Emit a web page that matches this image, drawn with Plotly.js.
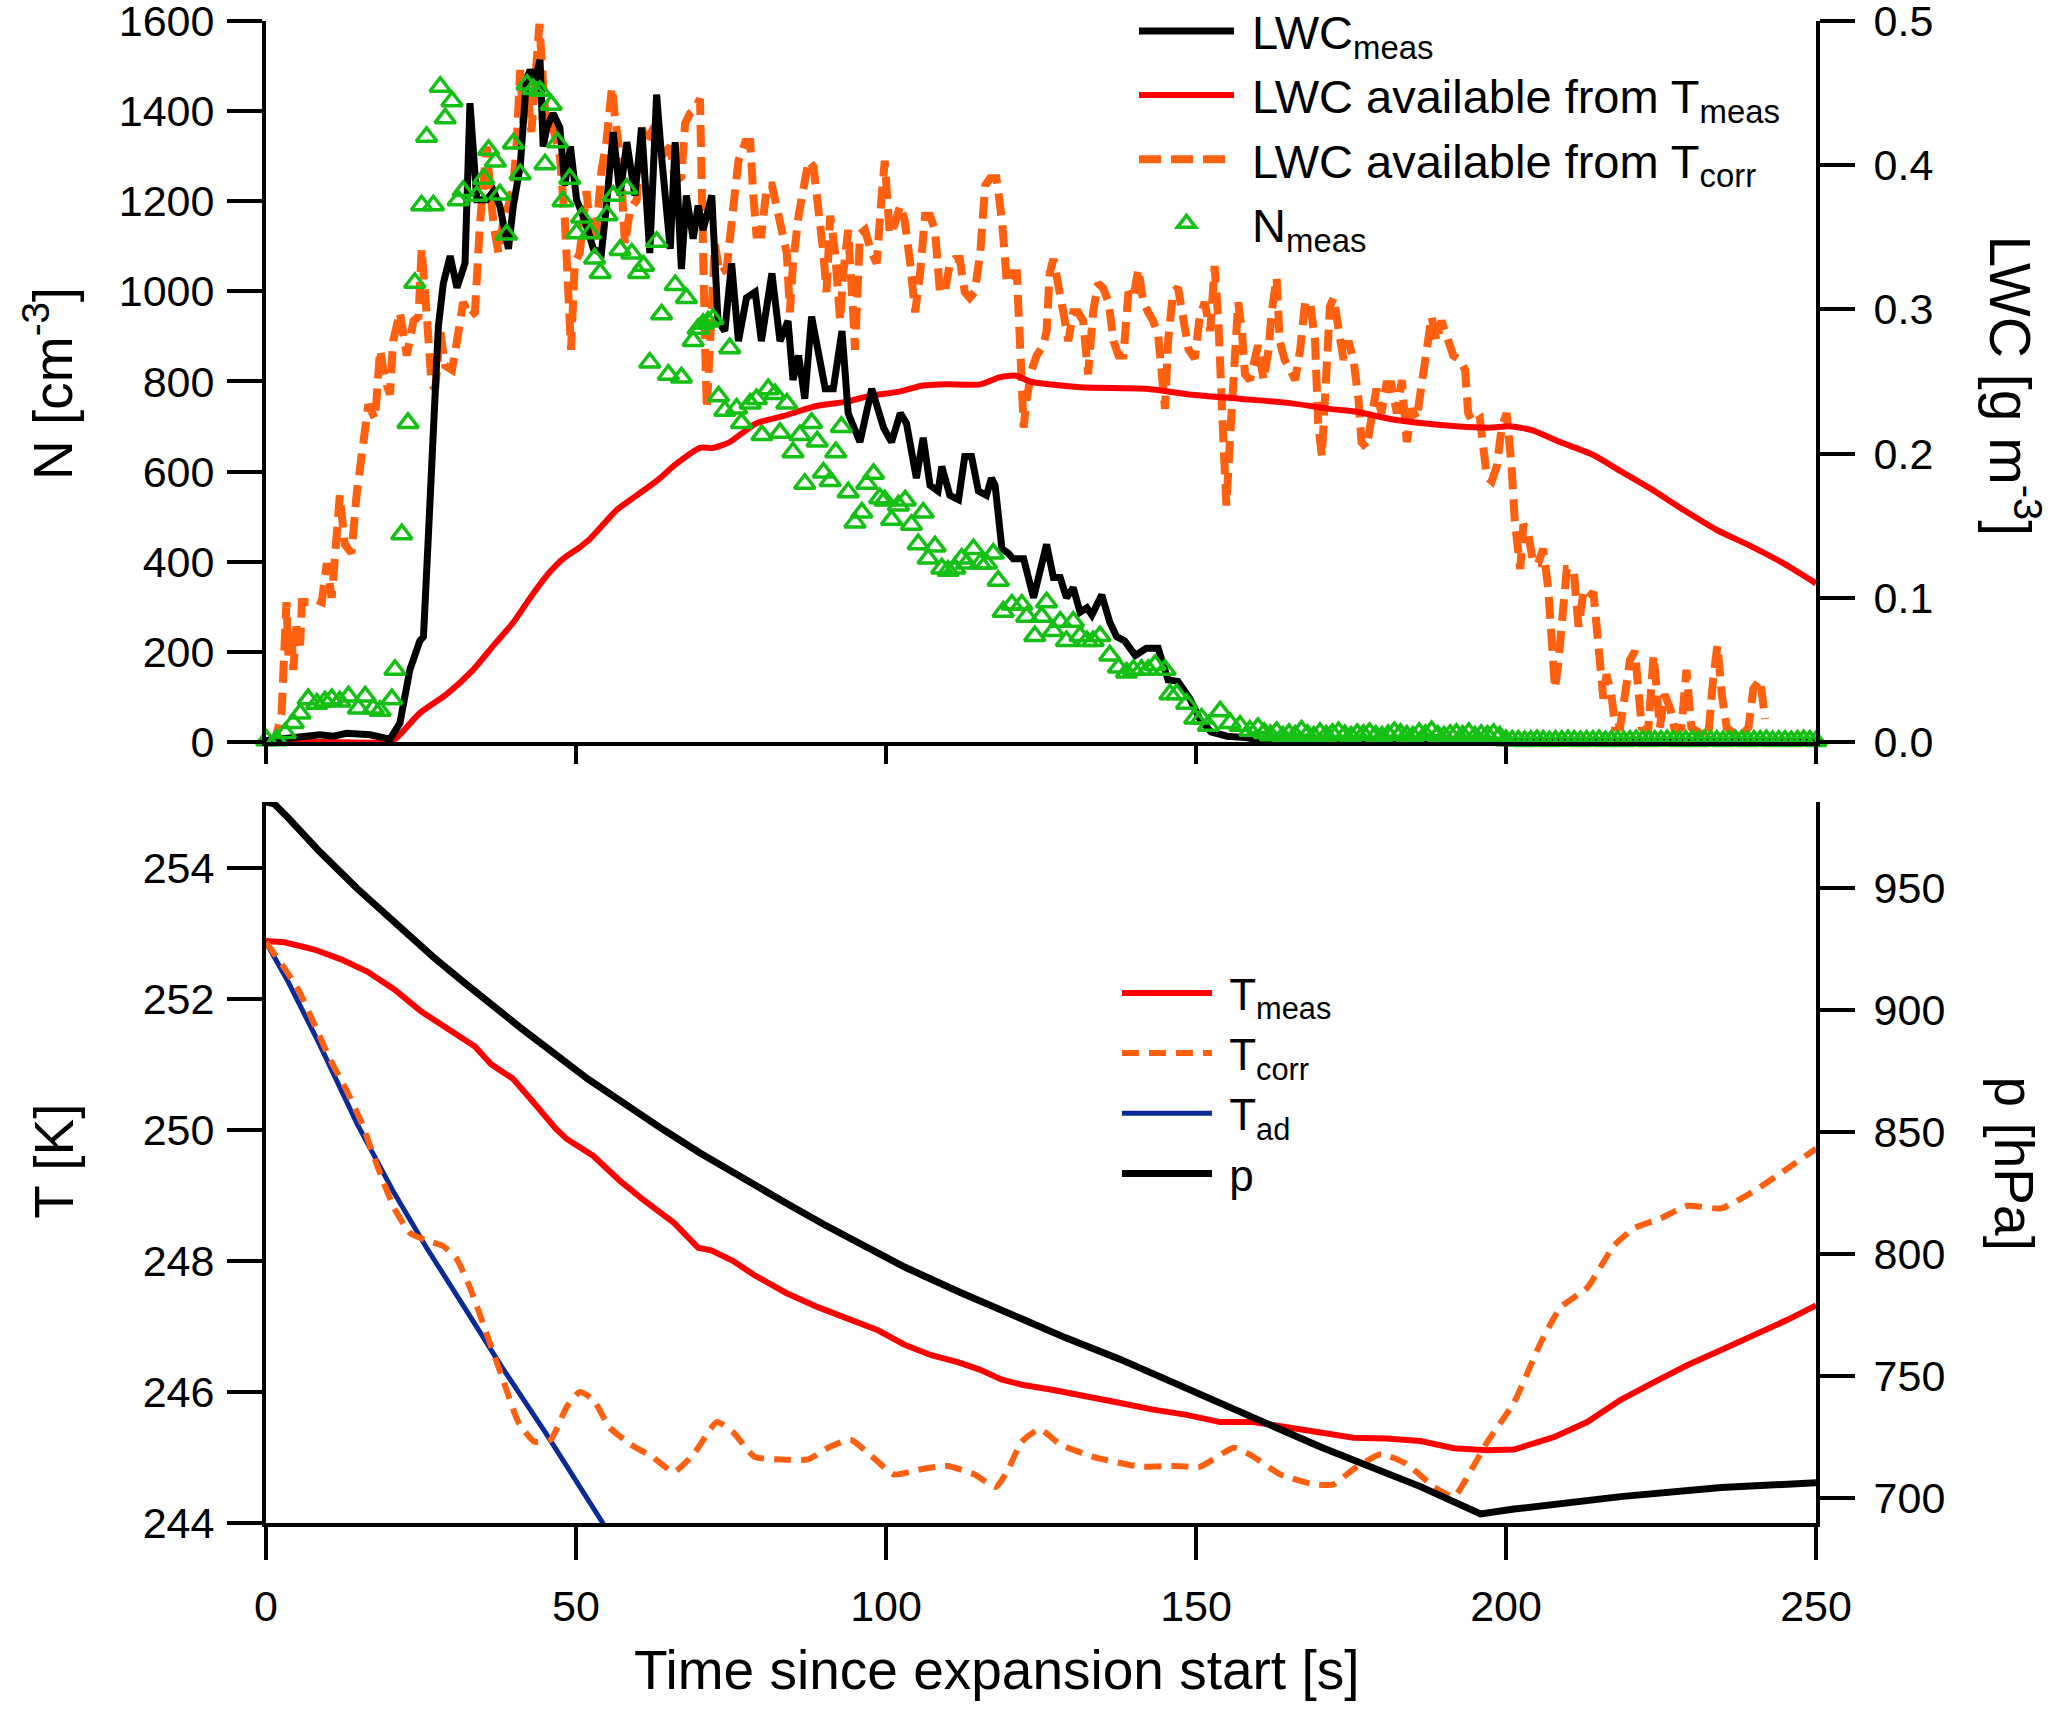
<!DOCTYPE html>
<html>
<head>
<meta charset="utf-8">
<script src="https://cdn.plot.ly/plotly-3.0.1.min.js"></script>
<style>
  body { margin: 0; background: #fff; }
  #chart { width: 2067px; height: 1716px; }
</style>
</head>
<body>
<div id="chart"></div>
<script>
// ---- top panel: liquid water content [g m-3] ----
var tLwcMeas = [0, 2, 4.4, 8.7, 10.9, 13, 16.8, 20, 21.6, 23.2,
  24.8, 25.4, 26.2, 27, 27.8, 28.6, 29.7, 30.8, 32.1, 32.9,
  34, 35.6, 36.7, 37.7, 39.1, 39.9, 41, 42, 42.6, 43.4,
  44.2, 44.7, 45.3, 46.3, 47.4, 48.2, 49.1, 50.1, 51.4, 52.8,
  54.1, 54.9, 56, 57.1, 58.2, 59.5, 60.6, 61.9, 63, 63.8,
  65.2, 66, 67, 67.8, 68.9, 69.7, 70.5, 71.9, 72.9, 74,
  75.1, 76.2, 77.5, 78.9, 79.9, 81.6, 82.9, 84.2, 85, 85.9,
  86.9, 88, 90.2, 91.5, 92.9, 93.9, 95.8, 97.7, 99.6, 100.9,
  102.3, 103.3, 104.9, 106, 107.1, 108.4, 109, 110.3, 111.7, 112.7,
  113.8, 114.9, 116.2, 117, 117.6, 118.7, 119.7, 120.5, 122.2, 123.8,
  125.9, 127, 128.1, 129.1, 130.2, 131.3, 132.4, 133.2, 134.8, 136.1,
  137.2, 138.5, 140.2, 142, 143.9, 145.5, 147.1, 149, 150.6, 152.4,
  155, 158, 161, 170, 200, 250];
var lwcMeas = [0.001, 0.002, 0.003, 0.005, 0.004, 0.006, 0.005, 0.002, 0.013, 0.050,
  0.070, 0.073, 0.144, 0.221, 0.288, 0.318, 0.337, 0.315, 0.332, 0.443,
  0.376, 0.376, 0.382, 0.372, 0.342, 0.372, 0.399, 0.459, 0.466, 0.459,
  0.473, 0.413, 0.426, 0.436, 0.426, 0.386, 0.413, 0.376, 0.362, 0.342,
  0.339, 0.372, 0.423, 0.379, 0.416, 0.379, 0.426, 0.339, 0.449, 0.406,
  0.342, 0.416, 0.328, 0.379, 0.349, 0.372, 0.355, 0.379, 0.292, 0.285,
  0.332, 0.278, 0.308, 0.312, 0.278, 0.325, 0.278, 0.292, 0.251, 0.268,
  0.238, 0.295, 0.245, 0.245, 0.285, 0.228, 0.208, 0.245, 0.218, 0.208,
  0.228, 0.221, 0.183, 0.211, 0.178, 0.174, 0.191, 0.171, 0.168, 0.198,
  0.198, 0.174, 0.171, 0.183, 0.178, 0.134, 0.131, 0.127, 0.127, 0.100,
  0.137, 0.114, 0.114, 0.100, 0.107, 0.090, 0.093, 0.088, 0.102, 0.083,
  0.073, 0.070, 0.060, 0.065, 0.065, 0.043, 0.042, 0.030, 0.016, 0.007,
  0.004, 0.003, 0.001, 0, 0, 0];

var tLwcAvail = [0, 10, 19.8, 21.1, 24.8, 29.1, 33.4, 36.7, 39.9, 43.1,
  45.8, 47.9, 50.6, 52.3, 56.6, 59.8, 63, 66.2, 70, 72.2,
  74.8, 79.1, 83.4, 88.8, 93.7, 97.4, 102.2, 105.8, 109.8, 115.2,
  118.4, 121, 123.2, 131.3, 142, 149, 157, 165.2, 171.6, 175.9,
  181.3, 186.7, 192, 197.4, 200.6, 204.4, 208.7, 214.1, 218.4, 223.2,
  228.6, 234, 239.4, 244.7, 250];
var lwcAvailMeas = [0, 0, 0, 0.003, 0.020, 0.033, 0.050, 0.067, 0.083, 0.103,
  0.118, 0.127, 0.135, 0.141, 0.161, 0.171, 0.181, 0.193, 0.204, 0.204,
  0.208, 0.221, 0.226, 0.233, 0.236, 0.240, 0.243, 0.247, 0.248, 0.248,
  0.253, 0.254, 0.250, 0.246, 0.245, 0.241, 0.238, 0.235, 0.231, 0.229,
  0.224, 0.221, 0.219, 0.218, 0.219, 0.216, 0.208, 0.199, 0.188, 0.176,
  0.161, 0.147, 0.136, 0.124, 0.110];

var tLwcCorr = [0.5, 1.5, 2.5, 3.3, 3.6, 4.1, 4.4, 4.9, 5.5, 5.8,
  7.1, 7.9, 9, 9.8, 10.6, 11.1, 11.9, 12.7, 13.8, 14.6,
  15.4, 16.5, 17.6, 18.4, 19.2, 20, 20.5, 21.6, 22.7, 23.8,
  24.6, 25.1, 25.9, 26.7, 27.3, 28.1, 28.9, 30, 30.8, 31.8,
  32.9, 33.7, 34.5, 35.6, 36.1, 36.7, 37.5, 38.3, 39.1, 39.9,
  40.4, 41, 41.5, 42, 42.8, 43.7, 44.1, 44.7, 45.3, 46.3,
  47.4, 48.2, 48.8, 49.2, 49.8, 50.6, 51.7, 52.3, 53.1, 53.6,
  54.1, 54.9, 55.8, 56.3, 57.1, 57.9, 58.7, 59.8, 60.6, 61.4,
  62.2, 63.3, 64.4, 65.2, 66, 67, 67.6, 68.4, 69.2, 70,
  70.3, 70.8, 71.1, 71.6, 72.4, 73.2, 74.3, 75.4, 76.2, 77.3,
  78.1, 78.6, 79.1, 79.9, 80.8, 81.6, 82.4, 83.2, 84, 84.5,
  85, 85.9, 86.7, 87.5, 88.3, 89.1, 89.9, 90.4, 91, 91.8,
  92.6, 93.1, 93.9, 94.7, 95, 95.8, 96.6, 97.7, 98.5, 99.3,
  99.8, 100.6, 101.4, 102.3, 103, 103.9, 104.7, 105.5, 106.3, 107.1,
  107.9, 108.7, 109.5, 110.3, 111.1, 111.9, 112.7, 113.5, 114.3, 115.2,
  116, 116.8, 117.8, 118.7, 119.5, 120.3, 121.1, 121.6, 122.2, 122.7,
  123.5, 124.3, 125.4, 125.9, 126.4, 127, 127.8, 128.6, 129.4, 130.2,
  131, 131.8, 132.6, 133.4, 134.2, 135, 135.9, 136.7, 137.5, 138.3,
  139.1, 139.9, 140.7, 141.5, 142.3, 143.1, 143.9, 144.5, 145, 145.5,
  146.3, 147.1, 147.9, 148.8, 149.8, 150.6, 151.4, 152.3, 153, 153.6,
  154.4, 154.9, 155.5, 156, 156.8, 157.4, 157.9, 158.7, 159.5, 160,
  160.9, 161.7, 162.2, 163, 163.5, 164.3, 165.2, 166, 166.8, 167.6,
  168.4, 169.2, 169.7, 170.3, 170.8, 171.6, 172.2, 172.9, 173.8, 174.6,
  175.4, 176.2, 176.7, 177.5, 178.3, 179.1, 179.9, 180.7, 181.5, 182.4,
  183.2, 184, 184.8, 185.6, 186.4, 187.2, 188, 188.8, 189.6, 190.4,
  191.5, 192.6, 193.4, 193.9, 194.7, 195.8, 196.3, 196.9, 197.7, 198.5,
  199.3, 200.1, 200.9, 201.4, 202.3, 202.8, 203.6, 204.4, 205.2, 206,
  206.8, 207.4, 207.9, 208.4, 209, 209.8, 210.9, 211.7, 212.5, 213.3,
  214.1, 214.9, 215.7, 216.2, 217, 217.6, 218.4, 219.2, 220, 220.8,
  221.3, 221.9, 222.9, 223.8, 224.3, 224.8, 225.6, 226.5, 227.3, 228.3,
  229.1, 229.9, 231.3, 232.6, 233.4, 234.1, 234.8, 235.6, 236.7, 237.7,
  239.1, 239.9, 241, 241.8];
var lwcAvailCorr = [0, 0.002, 0.019, 0.097, 0.060, 0.077, 0.050, 0.080, 0.067, 0.097,
  0.097, 0.099, 0.097, 0.124, 0.100, 0.134, 0.171, 0.137, 0.131, 0.171,
  0.201, 0.234, 0.224, 0.272, 0.251, 0.241, 0.278, 0.298, 0.268, 0.292,
  0.295, 0.342, 0.298, 0.248, 0.245, 0.285, 0.261, 0.258, 0.278, 0.305,
  0.295, 0.298, 0.359, 0.413, 0.386, 0.359, 0.339, 0.362, 0.372, 0.386,
  0.413, 0.466, 0.429, 0.459, 0.423, 0.483, 0.498, 0.456, 0.423, 0.426,
  0.406, 0.362, 0.318, 0.272, 0.332, 0.339, 0.382, 0.355, 0.345, 0.376,
  0.396, 0.416, 0.454, 0.433, 0.406, 0.345, 0.369, 0.376, 0.426, 0.416,
  0.423, 0.416, 0.409, 0.413, 0.389, 0.392, 0.429, 0.436, 0.439, 0.446,
  0.362, 0.278, 0.231, 0.272, 0.345, 0.325, 0.328, 0.372, 0.403, 0.416,
  0.416, 0.379, 0.352, 0.352, 0.386, 0.386, 0.372, 0.355, 0.339, 0.298,
  0.332, 0.365, 0.386, 0.403, 0.399, 0.372, 0.339, 0.312, 0.365, 0.339,
  0.292, 0.325, 0.355, 0.298, 0.272, 0.352, 0.355, 0.339, 0.332, 0.379,
  0.403, 0.352, 0.359, 0.372, 0.362, 0.332, 0.298, 0.325, 0.365, 0.365,
  0.355, 0.312, 0.312, 0.332, 0.335, 0.335, 0.312, 0.308, 0.312, 0.339,
  0.386, 0.391, 0.391, 0.362, 0.318, 0.325, 0.325, 0.278, 0.218, 0.238,
  0.258, 0.268, 0.275, 0.285, 0.325, 0.335, 0.312, 0.298, 0.278, 0.298,
  0.298, 0.292, 0.255, 0.298, 0.318, 0.315, 0.305, 0.278, 0.268, 0.268,
  0.312, 0.308, 0.328, 0.305, 0.298, 0.292, 0.282, 0.258, 0.231, 0.278,
  0.312, 0.315, 0.298, 0.272, 0.266, 0.295, 0.305, 0.285, 0.330, 0.292,
  0.211, 0.164, 0.211, 0.258, 0.305, 0.285, 0.255, 0.251, 0.268, 0.275,
  0.251, 0.272, 0.298, 0.322, 0.278, 0.265, 0.258, 0.251, 0.272, 0.305,
  0.305, 0.278, 0.221, 0.198, 0.238, 0.302, 0.308, 0.285, 0.265, 0.278,
  0.265, 0.238, 0.208, 0.204, 0.224, 0.245, 0.228, 0.248, 0.248, 0.228,
  0.251, 0.208, 0.231, 0.224, 0.248, 0.272, 0.295, 0.278, 0.292, 0.282,
  0.268, 0.265, 0.258, 0.228, 0.221, 0.224, 0.201, 0.184, 0.181, 0.191,
  0.218, 0.228, 0.191, 0.154, 0.120, 0.151, 0.144, 0.124, 0.124, 0.134,
  0.107, 0.070, 0.037, 0.053, 0.090, 0.120, 0.120, 0.080, 0.104, 0.100,
  0.104, 0.067, 0.030, 0.047, 0.033, 0.010, 0.010, 0.033, 0.057, 0.063,
  0.043, 0.010, 0.006, 0.060, 0.037, 0.010, 0.033, 0.023, 0.006, 0.010,
  0.050, 0.010, 0.006, 0.003, 0.043, 0.067, 0.033, 0.010, 0.006, 0.003,
  0.010, 0.037, 0.043, 0.016];

// droplet number concentration [cm-3]
var tNmeas = [0.1, 1.7, 3.1, 4.4, 5.5, 6.8, 8.2, 9.5, 10.6, 11.9,
  13.3, 14.9, 16, 17.3, 18.4, 20.3, 20.8, 21.9, 22.9, 24,
  25.1, 25.9, 27, 28.1, 28.9, 30, 31, 31.8, 32.9, 34,
  35.1, 35.9, 37, 37.7, 38.8, 39.9, 41, 42.1, 43.1, 44.2,
  45, 46, 47, 47.9, 49, 50.1, 50.9, 52.3, 53, 53.9,
  55, 56, 57.1, 58.2, 59, 60.1, 60.9, 61.9, 63, 63.8,
  64.9, 66, 67, 67.8, 68.9, 69.7, 70.5, 71.3, 72.1, 73,
  74, 74.8, 75.9, 76.7, 78.1, 79.1, 80, 81, 82.1, 82.9,
  84, 85, 86.1, 86.9, 88, 88.9, 89.9, 91, 91.9, 92.8,
  93.9, 95, 96.1, 96.9, 98, 99, 99.8, 100.9, 102, 103.1,
  104.1, 105.2, 106, 106.8, 107.9, 109, 110, 111.1, 112.2, 113,
  114.1, 115.2, 116.2, 117.3, 118.1, 118.9, 120.3, 121.9, 122.7, 124,
  125.1, 125.9, 127, 128.1, 129.1, 130.2, 131.3, 132.4, 133.4, 134.5,
  136.1, 137.5, 138.8, 139.9, 141.2, 142.3, 143.4, 145, 145.8, 146.9,
  148.5, 149.8, 150.9, 152, 153.9, 155.5, 157.1, 158.7, 160,
  161, 162, 163, 164, 165, 166, 167, 168, 169, 170,
  171, 172, 173, 174, 175, 176, 177, 178, 179, 180,
  181, 182, 183, 184, 185, 186, 187, 188, 189, 190,
  191, 192, 193, 194, 195, 196, 197, 198, 199,
  200, 201, 202, 203, 204, 205, 206, 207, 208, 209,
  210, 211, 212, 213, 214, 215, 216, 217, 218, 219,
  220, 221, 222, 223, 224, 225, 226, 227, 228, 229,
  230, 231, 232, 233, 234, 235, 236, 237, 238, 239,
  240, 241, 242, 243, 244, 245, 246, 247, 248, 249, 250];
var nMeas = [4, 4, 20, 42, 63, 95, 85, 90, 95, 90,
  101, 74, 101, 74, 69, 95, 160, 461, 708, 1019,
  1191, 1343, 1191, 1454, 1384, 1422, 1202, 1223, 1604, 1212,
  1250, 1314, 1288, 1215, 1126, 1328, 1260, 1459, 1449, 1445,
  1282, 1414, 1331, 1200, 1250, 1129, 1164, 1129, 1073, 1041,
  1169, 1212, 1092, 1228, 1084, 1041, 1057, 842, 1110, 949,
  815, 1014, 809, 985, 890, 917, 928, 933, 939, 767,
  735, 874, 740, 708, 751, 761, 681, 783, 772, 686,
  751, 643, 681, 573, 708, 667, 598, 579, 643, 699,
  554, 487, 509, 573, 595, 541, 536, 493, 525, 536,
  482, 439, 509, 407, 434, 385, 380, 385, 407, 396,
  428, 396, 396, 418, 358, 289, 305, 305, 278, 235,
  278, 310, 246, 267, 224, 267, 235, 224, 224, 235,
  192, 165, 154, 160, 160, 160, 171, 160, 106, 106,
  85, 52, 52, 36, 68, 42, 36, 25, 31,
  20, 15, 22, 12, 18, 14, 25, 16, 12, 20,
  14, 18, 22, 15, 12, 18, 16, 20, 14, 12,
  16, 22, 18, 14, 12, 20, 16, 24, 14, 12,
  16, 18, 14, 20, 12, 16, 14, 18, 12,
  4, 3, 3, 2, 3, 4, 3, 2, 3, 3,
  4, 3, 2, 3, 3, 4, 2, 3, 3, 2,
  3, 4, 3, 2, 3, 3, 4, 3, 2, 3,
  3, 2, 4, 3, 3, 2, 3, 4, 3, 2,
  3, 3, 4, 2, 3, 3, 2, 3, 4, 3, 2];

// ---- bottom panel: temperature [K] and pressure [hPa] ----
var tTmeas = [0, 3, 7.8, 12.1, 16.4, 20.7, 25.1, 29.4, 33.7, 36.3,
  39.8, 43.3, 46.7, 48.5, 52.8, 57.1, 60.6, 65.8, 69.7, 71.8,
  75.3, 78.8, 83.9, 89.1, 94.3, 98.7, 103, 107.3, 111.7, 115.1,
  118.6, 121.9, 127, 132.4, 137.8, 143.1, 148.5, 153.9, 159.3, 164.7,
  170.1, 175.4, 180.8, 186.2, 191.6, 197, 201.3, 207.7, 213.1, 218.5,
  223.9, 229.3, 234.7, 240.1, 245.4, 250];
var tempMeas = [252.88, 252.86, 252.75, 252.6, 252.41, 252.14, 251.8, 251.53, 251.27, 251.0,
  250.78, 250.4, 250.02, 249.86, 249.6, 249.22, 248.95, 248.58, 248.2, 248.16,
  248.0, 247.78, 247.51, 247.29, 247.1, 246.94, 246.72, 246.56, 246.45, 246.34,
  246.19, 246.11, 246.03, 245.92, 245.83, 245.73, 245.65, 245.54, 245.54, 245.46,
  245.39, 245.3, 245.29, 245.25, 245.14, 245.11, 245.12, 245.31, 245.54, 245.88,
  246.15, 246.41, 246.64, 246.87, 247.1, 247.32];

var tTcorr = [0, 2.6, 5.2, 7.8, 10.3, 12.9, 15.5, 18.1, 20.7, 23.3,
  25.9, 28.5, 30.7, 32.9, 35.5, 38.1, 40.7, 43.3, 45.9, 48.5,
  50.6, 52.8, 55.4, 58.8, 62.3, 65.8, 69.2, 72.7, 75.3, 78.8,
  83.1, 87.4, 90.9, 94.3, 97.8, 101.3, 105.6, 109.9, 114.3, 117.7,
  119.5, 121.9, 124.8, 128.1, 133.4, 141, 146.4, 150.7, 156.1, 159.3,
  163.6, 169, 172.2, 175.4, 179.8, 184, 188.4, 191.6, 193.8, 197,
  201.3, 205.6, 208.8, 213.1, 217.4, 220.7, 225, 229.3, 234.7, 240.1,
  245.4, 250];
var tempCorr = [252.86, 252.52, 252.14, 251.61, 251.08, 250.62, 250.09, 249.41, 248.8, 248.42,
  248.31, 248.23, 248.04, 247.59, 246.91, 246.22, 245.54, 245.24, 245.27, 245.77,
  246.0, 245.88, 245.46, 245.2, 245.01, 244.78, 245.08, 245.54, 245.39, 245.01,
  244.97, 244.97, 245.16, 245.27, 245.01, 244.74, 244.82, 244.87, 244.74, 244.55,
  244.78, 245.24, 245.43, 245.2, 245.01, 244.86, 244.87, 244.86, 245.15, 245.01,
  244.74, 244.59, 244.59, 244.82, 245.05, 244.9, 244.55, 244.4, 244.71, 245.24,
  245.84, 246.75, 247.29, 247.59, 248.23, 248.5, 248.65, 248.84, 248.8, 249.07,
  249.41, 249.71];

var tTad = [0, 3.4, 8.6, 14.7, 20.7, 25.9, 32, 38.1, 45, 54.1, 56];
var tempAd = [252.86, 252.29, 251.31, 250.09, 249.03, 248.2, 247.29, 246.37, 245.39, 244.02, 243.75];

var tP = [0, 1.3, 3.4, 8.6, 14.7, 21.6, 27, 32, 41.5, 51.9,
  58, 64, 70, 77, 84, 90, 96, 103, 112, 121.4,
  129, 137.8, 153.9, 170.1, 186.2, 195.9, 201.3, 218.5, 234.7, 250];
var pres = [985, 984.3, 979, 964.8, 949.6, 933.3, 921.5, 911, 891.7, 871.6,
  861, 851, 841.3, 830.7, 820.6, 812, 803.6, 794.6, 784.2, 773.8,
  765.6, 756.8, 739.2, 720.9, 704.7, 693.5, 695.5, 700.6, 704.3, 706.3];

var timeTicks = [0, 50, 100, 150, 200, 250];

var FONT = 'Liberation Sans, Arial, Helvetica, sans-serif';
var ORANGE = '#ff6010';
var RED = '#ff0000';
var GREEN = '#14c014';
var BLUE = '#0a2a9a';
var SP = '\u00a0';

var data = [
  {x: tLwcCorr, y: lwcAvailCorr, xaxis: 'x', yaxis: 'y', type: 'scatter', mode: 'lines',
   name: SP + 'LWC available from T<sub>corr</sub>', legendrank: 3,
   line: {color: ORANGE, width: 8, dash: '22px,10px'}},
  {x: tLwcAvail, y: lwcAvailMeas, xaxis: 'x', yaxis: 'y', type: 'scatter', mode: 'lines',
   name: SP + 'LWC available from T<sub>meas</sub>', legendrank: 2,
   line: {color: RED, width: 6, shape: 'spline', smoothing: 0.6}},
  {x: tLwcMeas, y: lwcMeas, xaxis: 'x', yaxis: 'y', type: 'scatter', mode: 'lines',
   name: SP + 'LWC<sub>meas</sub>', legendrank: 1,
   line: {color: 'black', width: 7}},
  {x: tNmeas, y: nMeas, xaxis: 'x', yaxis: 'y2', type: 'scatter', mode: 'markers',
   name: SP + 'N<sub>meas</sub>', legendrank: 4, cliponaxis: false,
   marker: {symbol: 'triangle-up-open', size: 18, color: GREEN, line: {width: 3.5, color: GREEN}}},

  {x: tTad, y: tempAd, xaxis: 'x2', yaxis: 'y3', type: 'scatter', mode: 'lines',
   name: SP + 'T<sub>ad</sub>', legend: 'legend2', legendrank: 3,
   line: {color: BLUE, width: 5}},
  {x: tTmeas, y: tempMeas, xaxis: 'x2', yaxis: 'y3', type: 'scatter', mode: 'lines',
   name: SP + 'T<sub>meas</sub>', legend: 'legend2', legendrank: 1,
   line: {color: RED, width: 6}},
  {x: tTcorr, y: tempCorr, xaxis: 'x2', yaxis: 'y3', type: 'scatter', mode: 'lines',
   name: SP + 'T<sub>corr</sub>', legend: 'legend2', legendrank: 2,
   line: {color: ORANGE, width: 6, dash: '17px,10px', shape: 'spline', smoothing: 0.5}},
  {x: tP, y: pres, xaxis: 'x2', yaxis: 'y4', type: 'scatter', mode: 'lines',
   name: SP + 'p', legend: 'legend2', legendrank: 4,
   line: {color: 'black', width: 7}}
];

var axisCommon = {
  showgrid: false, zeroline: false, showline: true, linecolor: 'black', linewidth: 4,
  ticks: 'outside', tickwidth: 4, tickcolor: 'black', automargin: false,
  ticklabeloverflow: 'allow',
  tickfont: {family: FONT, size: 43, color: 'black'}
};

function ax(extra) { return Object.assign({}, axisCommon, extra); }

var layout = {
  width: 2067, height: 1716,
  margin: {l: 266, r: 251, t: 21, b: 193, autoexpand: false},
  paper_bgcolor: 'white', plot_bgcolor: 'white',
  font: {family: FONT, size: 43, color: 'black'},
  showlegend: true,
  xaxis: ax({domain: [0, 1], anchor: 'y', range: [0, 250], tickvals: timeTicks,
    showticklabels: false, ticklen: 18}),
  xaxis3: ax({overlaying: 'x', anchor: 'y', range: [0, 250], tickvals: timeTicks,
    showticklabels: false, showline: false, ticks: 'inside', ticklen: 18}),
  yaxis: ax({domain: [0.52, 1], anchor: 'x', side: 'right', range: [0, 0.5],
    tickvals: [0, 0.1, 0.2, 0.3, 0.4, 0.5], tickformat: '.1f', ticklen: 35, ticklabelstandoff: 10}),
  yaxis2: ax({overlaying: 'y', anchor: 'x', side: 'left', range: [0, 1600],
    tickvals: [0, 200, 400, 600, 800, 1000, 1200, 1400, 1600], ticklen: 35, ticklabelstandoff: 4}),
  xaxis2: ax({domain: [0, 1], anchor: 'y3', range: [0, 250], tickvals: timeTicks,
    ticklen: 33, ticklabelstandoff: 9}),
  yaxis3: ax({domain: [0, 0.48], anchor: 'x2', side: 'left', range: [244, 255],
    tickvals: [244, 246, 248, 250, 252, 254], ticklen: 35, ticklabelstandoff: 4}),
  yaxis4: ax({overlaying: 'y3', anchor: 'x2', side: 'right', range: [689.8, 985],
    tickvals: [700, 750, 800, 850, 900, 950], ticklen: 35, ticklabelstandoff: 10}),
  legend: {x: 0.56, xanchor: 'left', y: 1.018, yanchor: 'top', bgcolor: 'rgba(0,0,0,0)',
    font: {family: FONT, size: 47, color: 'black'}, itemwidth: 95, tracegroupgap: 0},
  legend2: {x: 0.549, xanchor: 'left', y: 0.3763, yanchor: 'top', bgcolor: 'rgba(0,0,0,0)',
    font: {family: FONT, size: 44, color: 'black'}, itemwidth: 90, tracegroupgap: 0},
  annotations: [
    {text: 'N [cm<sup>-3</sup>]', textangle: -90, xref: 'paper', yref: 'paper',
     x: -0.14, y: 0.759, xanchor: 'center', yanchor: 'middle', showarrow: false,
     font: {family: FONT, size: 55, color: 'black'}},
    {text: 'LWC [g m<sup>-3</sup>]', textangle: 90, xref: 'paper', yref: 'paper',
     x: 1.128, y: 0.757, xanchor: 'center', yanchor: 'middle', showarrow: false,
     font: {family: FONT, size: 57, color: 'black'}},
    {text: 'T [K]', textangle: -90, xref: 'paper', yref: 'paper',
     x: -0.137, y: 0.241, xanchor: 'center', yanchor: 'middle', showarrow: false,
     font: {family: FONT, size: 55, color: 'black'}},
    {text: 'p [hPa]', textangle: 90, xref: 'paper', yref: 'paper',
     x: 1.128, y: 0.239, xanchor: 'center', yanchor: 'middle', showarrow: false,
     font: {family: FONT, size: 55, color: 'black'}},
    {text: 'Time since expansion start [s]', xref: 'paper', yref: 'paper',
     x: 0.4716, y: -0.098, xanchor: 'center', yanchor: 'middle', showarrow: false,
     font: {family: FONT, size: 55, color: 'black'}}
  ]
};

Plotly.newPlot('chart', data, layout, {staticPlot: true, displayModeBar: false});
</script>
</body>
</html>
